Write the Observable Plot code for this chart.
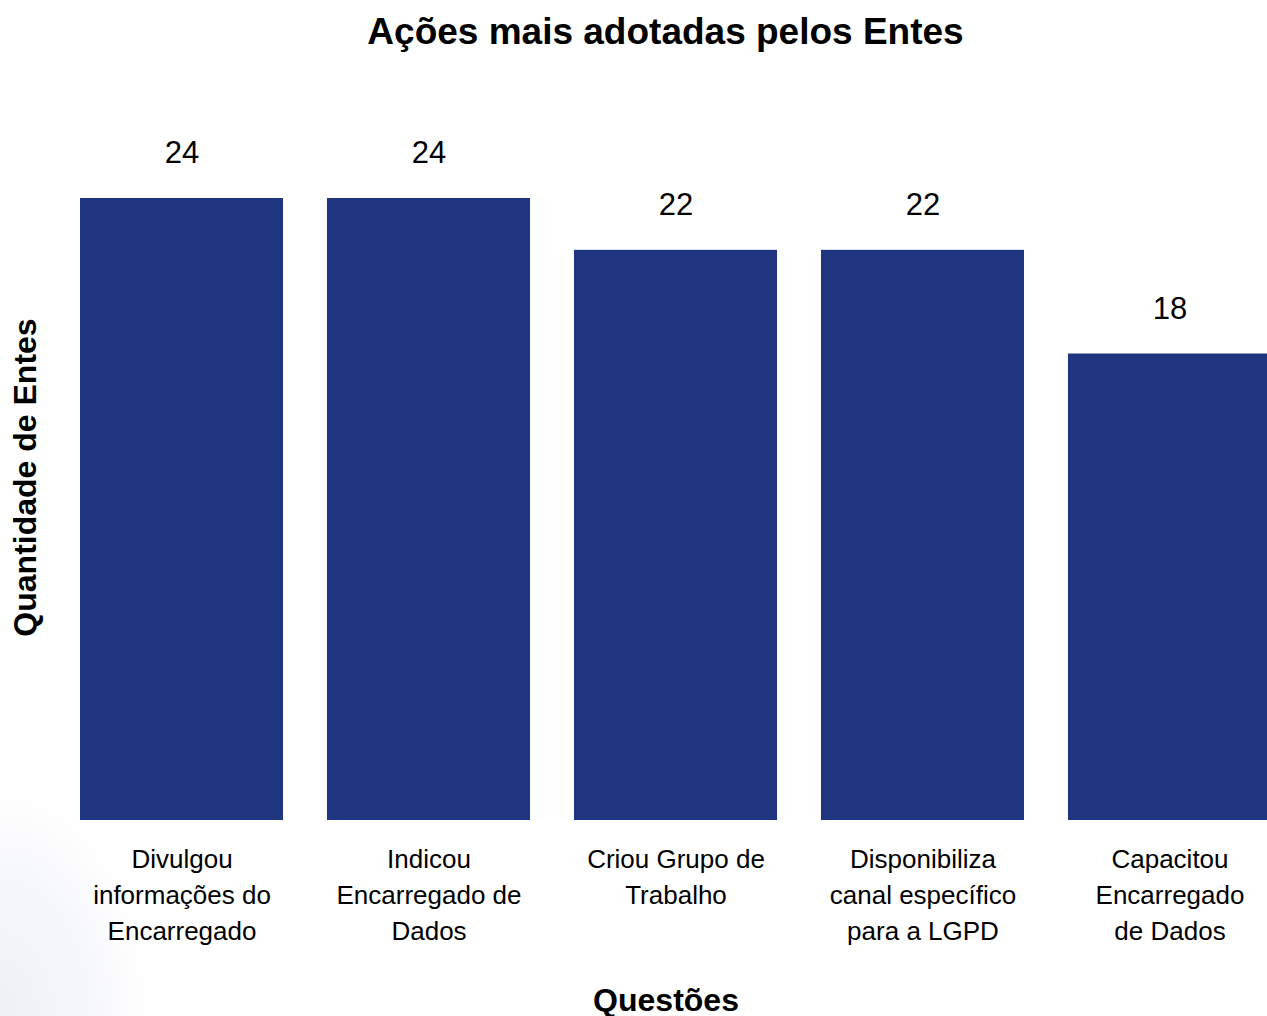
<!DOCTYPE html>
<html>
<head>
<meta charset="utf-8">
<script src="https://cdn.jsdelivr.net/npm/d3@7"></script>
<script src="https://cdn.jsdelivr.net/npm/@observablehq/plot@0.6"></script>
<style>
  html, body { margin: 0; padding: 0; }
  body {
    width: 1267px; height: 1016px; overflow: hidden;
    font-family: "Liberation Sans", Arial, sans-serif;
    background: radial-gradient(ellipse 150px 230px at 0 100%, #eef0f6 0%, #f6f7fa 60%, #ffffff 100%);
  }
  #title {
    height: 64px; line-height: 64px; text-align: center;
    font-size: 37px; font-weight: bold; color: #000;
    padding-left: 64px; box-sizing: border-box; width: 1267px;
  }
  #chart svg { max-width: none; background: transparent; }
</style>
</head>
<body>
<div id="title">Ações mais adotadas pelos Entes</div>
<div id="chart"></div>
<script>
const categories = [
  "Divulgou informações do Encarregado",
  "Indicou Encarregado de Dados",
  "Criou Grupo de Trabalho",
  "Disponibiliza canal específico para a LGPD",
  "Capacitou Encarregado de Dados"
];
const tickLabels = [
  "Divulgou\ninformações do\nEncarregado",
  "Indicou\nEncarregado de\nDados",
  "Criou Grupo de\nTrabalho",
  "Disponibiliza\ncanal específico\npara a LGPD",
  "Capacitou\nEncarregado\nde Dados"
];
const values = [24, 24, 22, 22, 18];

const data = categories.map((c, i) => ({category: c, label: tickLabels[i], value: values[i]}));

const plot = Plot.plot({
  width: 1267,
  height: 952,
  marginLeft: 80,
  marginRight: 0,
  marginTop: 134,
  marginBottom: 196,
  style: {background: "transparent", fontFamily: "'Liberation Sans', Arial, sans-serif", overflow: "hidden"},
  x: {domain: categories, range: [80, 1271], paddingInner: 0.178, paddingOuter: 0, round: false, axis: null},
  y: {domain: [0, 24], axis: null},
  marks: [
    Plot.barY(data, {x: "category", y: "value", fill: "#203580"}),
    Plot.text(data, {x: "category", y: "value", text: d => String(d.value), dy: -45, fontSize: 31, fill: "#000", lineAnchor: "middle"}),
    Plot.text(data, {x: "category", y: 0, text: "label", lineAnchor: "top", dy: 22, fontSize: 26, lineHeight: 1.385, fill: "#000"}),
    Plot.text(["Questões"], {frameAnchor: "bottom", dy: 180, dx: -8, fontSize: 32, fontWeight: "bold", fill: "#000", lineAnchor: "middle"}),
    Plot.text(["Quantidade de Entes"], {frameAnchor: "left", textAnchor: "middle", rotate: -90, dx: -55, dy: -32, fontSize: 32, fontWeight: "bold", fill: "#000", lineAnchor: "middle"})
  ]
});
document.getElementById("chart").appendChild(plot);
</script>
</body>
</html>
